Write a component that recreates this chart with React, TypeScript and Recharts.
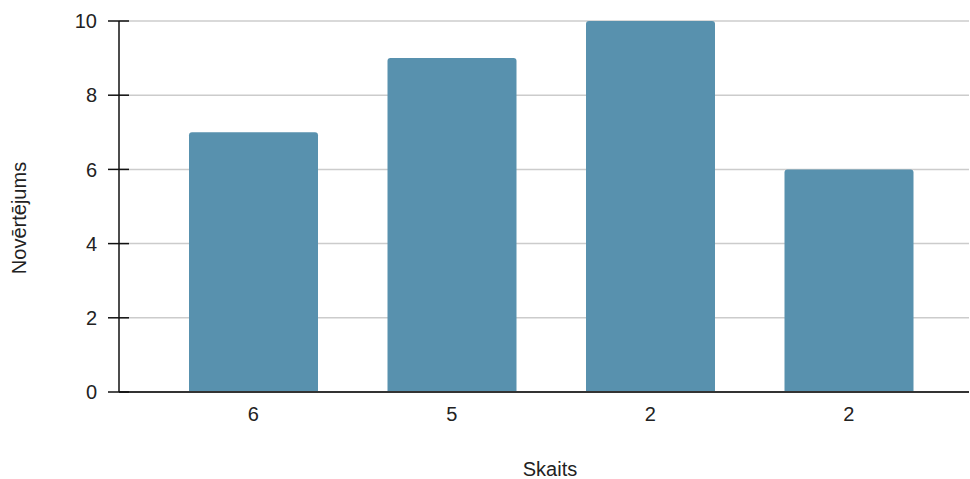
import React from 'react';
import { BarChart, Bar, XAxis, YAxis, CartesianGrid, Label } from 'recharts';

const categories = ['6', '5', '2', '2'];
const ratings = [7, 9, 10, 6];
const yTicks = [0, 2, 4, 6, 8, 10];

const chartData = categories.map((label, i) => ({ label, value: ratings[i] }));

const FONT = '"Liberation Sans", Arial, sans-serif';
const FS = 20;

// y tick: label plus a tick mark that crosses the axis line
const YTick = (props: any) => {
  const { x, y, payload } = props;
  const axisX = x + 22;
  return (
    <g>
      <line x1={axisX - 11} x2={axisX + 10} y1={y} y2={y} stroke="#111" strokeWidth={1.5} />
      <text x={x} y={y} dy="0.355em" textAnchor="end" fill="#222" fontSize={FS} fontFamily={FONT}>
        {payload.value}
      </text>
    </g>
  );
};

const YLabel = (props: any) => {
  const { viewBox } = props;
  const cx = viewBox.x + 18.5;
  const cy = viewBox.y + viewBox.height / 2 + 11.5;
  return (
    <text
      x={cx}
      y={cy}
      transform={`rotate(-90, ${cx}, ${cy})`}
      textAnchor="middle"
      dominantBaseline="central"
      fill="#222"
      fontSize={FS}
      fontFamily={FONT}
    >
      Novērtējums
    </text>
  );
};

const App = () => {
  return (
    <div style={{ width: 970, height: 479 }}>
      <style>{`body{margin:0}`}</style>
      <BarChart
        width={970}
        height={479}
        data={chartData}
        margin={{ top: 21, right: 1, bottom: 7, left: 0 }}
      >
        <CartesianGrid vertical={false} stroke="#cccccc" strokeWidth={1.5} />
        <XAxis
          dataKey="label"
          height={80}
          padding={{ left: 35, right: 21 }}
          tickLine={false}
          tickSize={0}
          tickMargin={15}
          axisLine={{ stroke: '#333', strokeWidth: 2 }}
          tick={{ fill: '#222', fontSize: FS, fontFamily: FONT }}
        >
          <Label
            value="Skaits"
            position="insideBottom"
            offset={-4}
            dx={6}
            fill="#222"
            fontSize={FS}
            fontFamily={FONT}
          />
        </XAxis>
        <YAxis
          width={119}
          domain={[0, 10]}
          ticks={yTicks}
          interval={0}
          tickLine={false}
          tickSize={10}
          tickMargin={12}
          axisLine={{ stroke: '#111', strokeWidth: 1.5 }}
          tick={<YTick />}
        >
          <Label content={<YLabel />} />
        </YAxis>
        <Bar dataKey="value" fill="#5891ae" barSize={129} radius={[3, 3, 0, 0]} isAnimationActive={false} />
      </BarChart>
    </div>
  );
};

export default App;
